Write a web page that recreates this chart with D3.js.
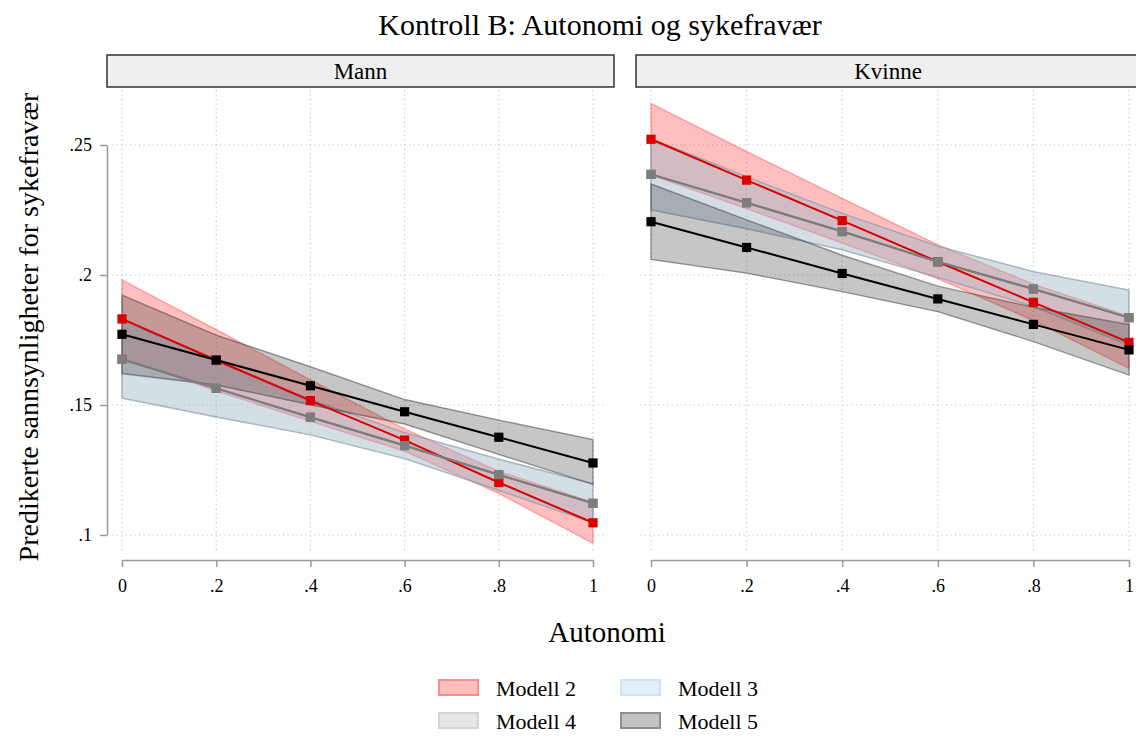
<!DOCTYPE html>
<html>
<head>
<meta charset="utf-8">
<script src="https://cdn.jsdelivr.net/npm/d3@7"></script>
<style>
  html, body { margin: 0; padding: 0; background: #fff; }
  svg { display: block; font-family: "Liberation Serif", "Times New Roman", serif; }
</style>
</head>
<body>
<svg id="chart" width="1136" height="736"></svg>
<script>
// Predicted probability of sick leave by autonomy, split by gender
const autonomi = [0, 0.2, 0.4, 0.6, 0.8, 1];
const xTickLabels = ["0", ".2", ".4", ".6", ".8", "1"];
const yTicks = [0.1, 0.15, 0.2, 0.25];
const yTickLabels = [".1", ".15", ".2", ".25"];
const panels = ["Mann", "Kvinne"];
const models = ["Modell 2", "Modell 3", "Modell 4", "Modell 5"];

// Mann
const mannM2 = [0.1831, 0.1672, 0.1517, 0.1365, 0.1202, 0.1047];
const mannM2Lo = [0.1681, 0.1554, 0.1437, 0.1322, 0.1160, 0.0968];
const mannM2Hi = [0.1981, 0.1790, 0.1597, 0.1408, 0.1245, 0.1126];
const mannM3 = [0.1676, 0.1564, 0.1453, 0.1344, 0.1232, 0.1122];
const mannM3Lo = [0.1526, 0.1454, 0.1385, 0.1294, 0.1172, 0.1047];
const mannM3Hi = [0.1826, 0.1674, 0.1521, 0.1394, 0.1292, 0.1197];
const mannM4 = [0.1676, 0.1564, 0.1453, 0.1344, 0.1232, 0.1122];
const mannM4Lo = [0.1526, 0.1454, 0.1385, 0.1294, 0.1172, 0.1047];
const mannM4Hi = [0.1826, 0.1674, 0.1521, 0.1394, 0.1292, 0.1197];
const mannM5 = [0.1772, 0.1673, 0.1574, 0.1474, 0.1376, 0.1277];
const mannM5Lo = [0.1621, 0.1577, 0.1501, 0.1427, 0.1310, 0.1195];
const mannM5Hi = [0.1923, 0.1769, 0.1647, 0.1521, 0.1442, 0.1367];

// Kvinne
const kvinneM2 = [0.2522, 0.2365, 0.2209, 0.2051, 0.1895, 0.1741];
const kvinneM2Lo = [0.2384, 0.2255, 0.2123, 0.1986, 0.1825, 0.1641];
const kvinneM2Hi = [0.2660, 0.2475, 0.2295, 0.2116, 0.1965, 0.1841];
const kvinneM3 = [0.2387, 0.2278, 0.2167, 0.2051, 0.1946, 0.1836];
const kvinneM3Lo = [0.2250, 0.2178, 0.2097, 0.1991, 0.1879, 0.1730];
const kvinneM3Hi = [0.2524, 0.2378, 0.2237, 0.2111, 0.2013, 0.1942];
const kvinneM4 = [0.2387, 0.2278, 0.2167, 0.2051, 0.1946, 0.1836];
const kvinneM4Lo = [0.2250, 0.2178, 0.2097, 0.1991, 0.1879, 0.1730];
const kvinneM4Hi = [0.2524, 0.2378, 0.2237, 0.2111, 0.2013, 0.1942];
const kvinneM5 = [0.2205, 0.2106, 0.2006, 0.1908, 0.1810, 0.1712];
const kvinneM5Lo = [0.2060, 0.2007, 0.1936, 0.1859, 0.1744, 0.1615];
const kvinneM5Hi = [0.2350, 0.2212, 0.2076, 0.1957, 0.1876, 0.1809];

const seriesByPanel = {
  Mann: [
    { est: mannM2, lo: mannM2Lo, hi: mannM2Hi },
    { est: mannM3, lo: mannM3Lo, hi: mannM3Hi },
    { est: mannM4, lo: mannM4Lo, hi: mannM4Hi },
    { est: mannM5, lo: mannM5Lo, hi: mannM5Hi }
  ],
  Kvinne: [
    { est: kvinneM2, lo: kvinneM2Lo, hi: kvinneM2Hi },
    { est: kvinneM3, lo: kvinneM3Lo, hi: kvinneM3Hi },
    { est: kvinneM4, lo: kvinneM4Lo, hi: kvinneM4Hi },
    { est: kvinneM5, lo: kvinneM5Lo, hi: kvinneM5Hi }
  ]
};

// Styling per model: band fill/stroke, line/marker colour
const bandFill = ["rgba(255,0,0,0.25)", "rgba(173,214,245,0.32)", "rgba(150,150,150,0.22)", "rgba(60,60,60,0.29)"];
const bandStroke = ["rgba(255,40,40,0.35)", "rgba(110,160,200,0.45)", "rgba(150,150,150,0.35)", "rgba(60,60,60,0.5)"];
const lineColor = ["#d80000", "#7d7d7d", "#7d7d7d", "#000000"];
const legendFill = ["#ffbfbf", "#e4f0f9", "#e6e6e6", "#c3c3c3"];
const legendStroke = ["#ff8c8c", "#cfe2f2", "#d3d3d3", "#8f8f8f"];
// line drawing order: Modell 3 (hidden), Modell 2, Modell 4, Modell 5
const lineOrder = [1, 0, 2, 3];

const svg = d3.select("#chart");

const layout = {
  Mann:   { x0: 122, x1: 593, gx0: 112, gx1: 605, s0: 107, s1: 614 },
  Kvinne: { x0: 651, x1: 1129, gx0: 640, gx1: 1142, s0: 636, s1: 1142 }
};
const yTop = 145, yBot = 535;
const y = d3.scaleLinear().domain([0.1, 0.25]).range([yBot, yTop]);

// Title
svg.append("text")
  .attr("x", 600).attr("y", 35)
  .attr("text-anchor", "middle")
  .attr("font-size", 30)
  .attr("fill", "#000")
  .text("Kontroll B: Autonomi og sykefravær");

panels.forEach(p => {
  const L = layout[p];
  const x = d3.scaleLinear().domain([0, 1]).range([L.x0, L.x1]);
  const g = svg.append("g");

  // strip
  g.append("rect")
    .attr("x", L.s0).attr("y", 55)
    .attr("width", L.s1 - L.s0).attr("height", 32)
    .attr("fill", "#efefef").attr("stroke", "#333").attr("stroke-width", 1.5);
  g.append("text")
    .attr("x", (L.s0 + Math.min(L.s1, 1140)) / 2).attr("y", 79)
    .attr("text-anchor", "middle").attr("font-size", 23)
    .text(p);

  // gridlines
  g.append("g").selectAll("line").data(autonomi).join("line")
    .attr("x1", d => x(d)).attr("x2", d => x(d))
    .attr("y1", 90).attr("y2", 553)
    .attr("stroke", "#c4c4c4").attr("stroke-width", 1.1)
    .attr("stroke-dasharray", "1.2,3.3");
  g.append("g").selectAll("line").data(yTicks).join("line")
    .attr("x1", L.gx0).attr("x2", L.gx1)
    .attr("y1", d => y(d)).attr("y2", d => y(d))
    .attr("stroke", "#c4c4c4").attr("stroke-width", 1.1)
    .attr("stroke-dasharray", "1.2,3.3");

  const series = seriesByPanel[p];

  // confidence bands
  const area = d3.area()
    .x((d, i) => x(autonomi[i]))
    .y0(d => y(d[0]))
    .y1(d => y(d[1]));
  series.forEach((s, k) => {
    const pts = s.lo.map((v, i) => [v, s.hi[i]]);
    g.append("path")
      .attr("d", area(pts))
      .attr("fill", bandFill[k])
      .attr("stroke", bandStroke[k])
      .attr("stroke-width", 1.4);
  });

  // estimate lines with square markers
  const line = d3.line().x((d, i) => x(autonomi[i])).y(d => y(d));
  lineOrder.forEach(k => {
    const s = series[k];
    g.append("path")
      .attr("d", line(s.est))
      .attr("fill", "none")
      .attr("stroke", lineColor[k])
      .attr("stroke-width", 2);
    g.append("g").selectAll("rect").data(s.est).join("rect")
      .attr("x", (d, i) => x(autonomi[i]) - 4.6)
      .attr("y", d => y(d) - 4.6)
      .attr("width", 9.2).attr("height", 9.2)
      .attr("fill", lineColor[k]);
  });

  // x axis
  const xAxis = d3.axisBottom(x)
    .tickValues(autonomi)
    .tickFormat((d, i) => xTickLabels[i])
    .tickSize(7).tickSizeOuter(0).tickPadding(12);
  const gx = g.append("g").attr("transform", "translate(0,560)").call(xAxis);
  gx.select(".domain").attr("stroke", "#9a9a9a").attr("stroke-width", 1.5);
  gx.selectAll(".tick line").attr("stroke", "#9a9a9a").attr("stroke-width", 1.5);
  gx.selectAll(".tick text").attr("font-size", 18).attr("fill", "#000")
    .attr("font-family", "Liberation Serif, Times New Roman, serif");

  // y axis (left panel only)
  if (p === "Mann") {
    const yAxis = d3.axisLeft(y)
      .tickValues(yTicks)
      .tickFormat((d, i) => yTickLabels[i])
      .tickSize(7).tickSizeOuter(0).tickPadding(8);
    const gy = g.append("g").attr("transform", "translate(107,0)").call(yAxis);
    gy.select(".domain").attr("stroke", "#9a9a9a").attr("stroke-width", 1.5);
    gy.selectAll(".tick line").attr("stroke", "#9a9a9a").attr("stroke-width", 1.5);
    gy.selectAll(".tick text").attr("font-size", 18).attr("fill", "#000")
      .attr("font-family", "Liberation Serif, Times New Roman, serif");
  }
});

// axis titles
svg.append("text")
  .attr("x", 607).attr("y", 642)
  .attr("text-anchor", "middle").attr("font-size", 29)
  .text("Autonomi");
svg.append("text")
  .attr("transform", "translate(38,327) rotate(-90)")
  .attr("text-anchor", "middle").attr("font-size", 28)
  .text("Predikerte sannsynligheter for sykefravær");

// legend
const legCols = [439, 621];
const legRows = [680, 713];
models.forEach((m, k) => {
  const cx = legCols[k % 2], cy = legRows[Math.floor(k / 2)];
  svg.append("rect")
    .attr("x", cx).attr("y", cy)
    .attr("width", 39).attr("height", 15)
    .attr("fill", legendFill[k]).attr("stroke", legendStroke[k]).attr("stroke-width", 2);
  svg.append("text")
    .attr("x", cx + 57).attr("y", cy + 16)
    .attr("font-size", 22)
    .text(m);
});
</script>
</body>
</html>
